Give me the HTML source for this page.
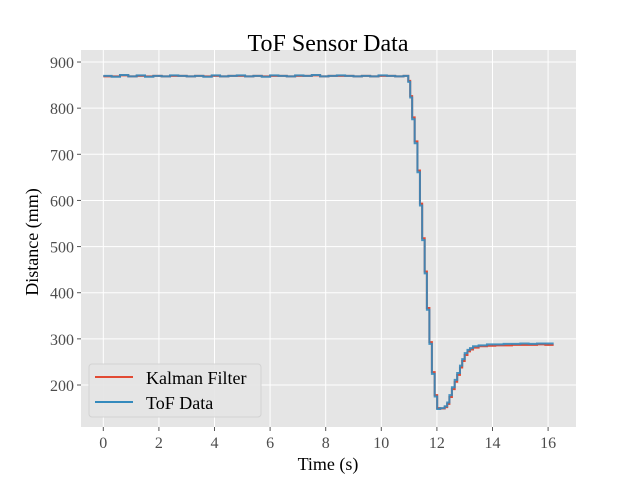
<!DOCTYPE html>
<html><head><meta charset="utf-8"><style>
body{margin:0;background:#fff}
svg text{font-family:"Liberation Serif",serif;fill:#4d4d4d}
</style></head><body>
<svg width="640" height="480" viewBox="0 0 640 480" id="c">
<rect x="81" y="50" width="495" height="377" fill="#e5e5e5"/>
<g id="grid"></g><g id="ticks"></g><g id="series"></g>
<text x="328" y="51" font-size="24" text-anchor="middle" style="fill:#000">ToF Sensor Data</text>
<text x="328" y="470" font-size="18" text-anchor="middle" style="fill:#000">Time (s)</text>
<text transform="translate(38,242) rotate(-90)" font-size="18" text-anchor="middle" style="fill:#000">Distance (mm)</text>
<g>
<rect x="89" y="364" width="172" height="53" rx="3" fill="#e5e5e5" stroke="#d0d0d0" opacity="0.9"/>
<line x1="95" y1="377" x2="133" y2="377" stroke="#e24a33" stroke-width="2"/>
<text x="146" y="384" font-size="18" style="fill:#000">Kalman Filter</text>
<line x1="95" y1="402" x2="133" y2="402" stroke="#348abd" stroke-width="2"/>
<text x="146" y="409" font-size="18" style="fill:#000">ToF Data</text>
</g>
</svg>
<script>
const xTicks=[0,2,4,6,8,10,12,14,16];
const yTicks=[200,300,400,500,600,700,800,900];
const times=[0,0.3,0.6,0.9,1.2,1.5,1.8,2.1,2.4,2.7,3.0,3.3,3.6,3.9,4.2,4.5,4.8,5.1,5.4,5.7,6.0,6.3,6.6,6.9,7.2,7.5,7.8,8.1,8.4,8.7,9.0,9.3,9.6,9.9,10.2,10.5,10.8,10.97,11.04,11.11,11.2,11.3,11.39,11.47,11.56,11.64,11.73,11.82,11.92,12.01,12.12,12.28,12.37,12.45,12.54,12.64,12.73,12.83,12.91,13.0,13.1,13.19,13.3,13.5,13.8,14.1,14.4,14.7,15.0,15.3,15.6,15.9,16.2];
const tof=[870,868,872,869,871,868,870,869,871,870,869,870,868,871,869,870,871,869,870,868,871,870,869,871,870,872,869,870,871,870,869,870,869,871,870,869,870,857,823,776,724,661,589,514,442,363,289,224,175,148,150,154,162,178,195,211,226,242,256,269,276,280,284,286,288,288,289,289,290,289,290,290,290];
const kalman=[869,869,871,869,870,869,870,869,870,870,869,870,869,870,869,870,870,869,870,869,870,870,869,870,870,871,869,870,870,870,869,870,869,870,870,869,870,859,826,780,728,665,593,518,446,367,293,228,178,150,149,152,159,174,191,207,222,238,252,265,273,277,281,284,285,286,286,287,287,287,288,287,287];
const X=t=>103.3+t*27.8, Y=v=>385-(v-200)*0.4614;
const ns='http://www.w3.org/2000/svg';
const g=document.getElementById('grid'),tk=document.getElementById('ticks'),s=document.getElementById('series');
function mk(p,tag,a){const e=document.createElementNS(ns,tag);for(const k in a)e.setAttribute(k,a[k]);p.appendChild(e);return e;}
xTicks.forEach(t=>{
 const l=mk(g,'line',{x1:X(t),x2:X(t),y1:50,y2:427,stroke:'#fff','stroke-width':1});
 
 
 mk(tk,'line',{x1:X(t),x2:X(t),y1:427,y2:431,stroke:'#555'});
 const tx=mk(tk,'text',{x:X(t),y:448,'font-size':16,'text-anchor':'middle'});tx.textContent=t;
 
 
});
yTicks.forEach(v=>{
 const l=mk(g,'line',{x1:81,x2:576,y1:Y(v),y2:Y(v),stroke:'#fff','stroke-width':1});
 
 
 mk(tk,'line',{x1:77,x2:81,y1:Y(v),y2:Y(v),stroke:'#555'});
 const tx=mk(tk,'text',{x:74,y:Y(v)+6,'font-size':16,'text-anchor':'end'});tx.textContent=v;
 
 
});
function step(vals){let d='M'+X(times[0])+','+Y(vals[0]);for(let i=1;i<times.length;i++){d+='H'+X(times[i])+'V'+Y(vals[i]);}return d;}
const pk=mk(s,'path',{d:step(kalman),fill:'none',stroke:'#e24a33','stroke-width':2});


const pt=mk(s,'path',{d:step(tof),fill:'none',stroke:'#348abd','stroke-width':2,opacity:0.9});


</script>
</body></html>
